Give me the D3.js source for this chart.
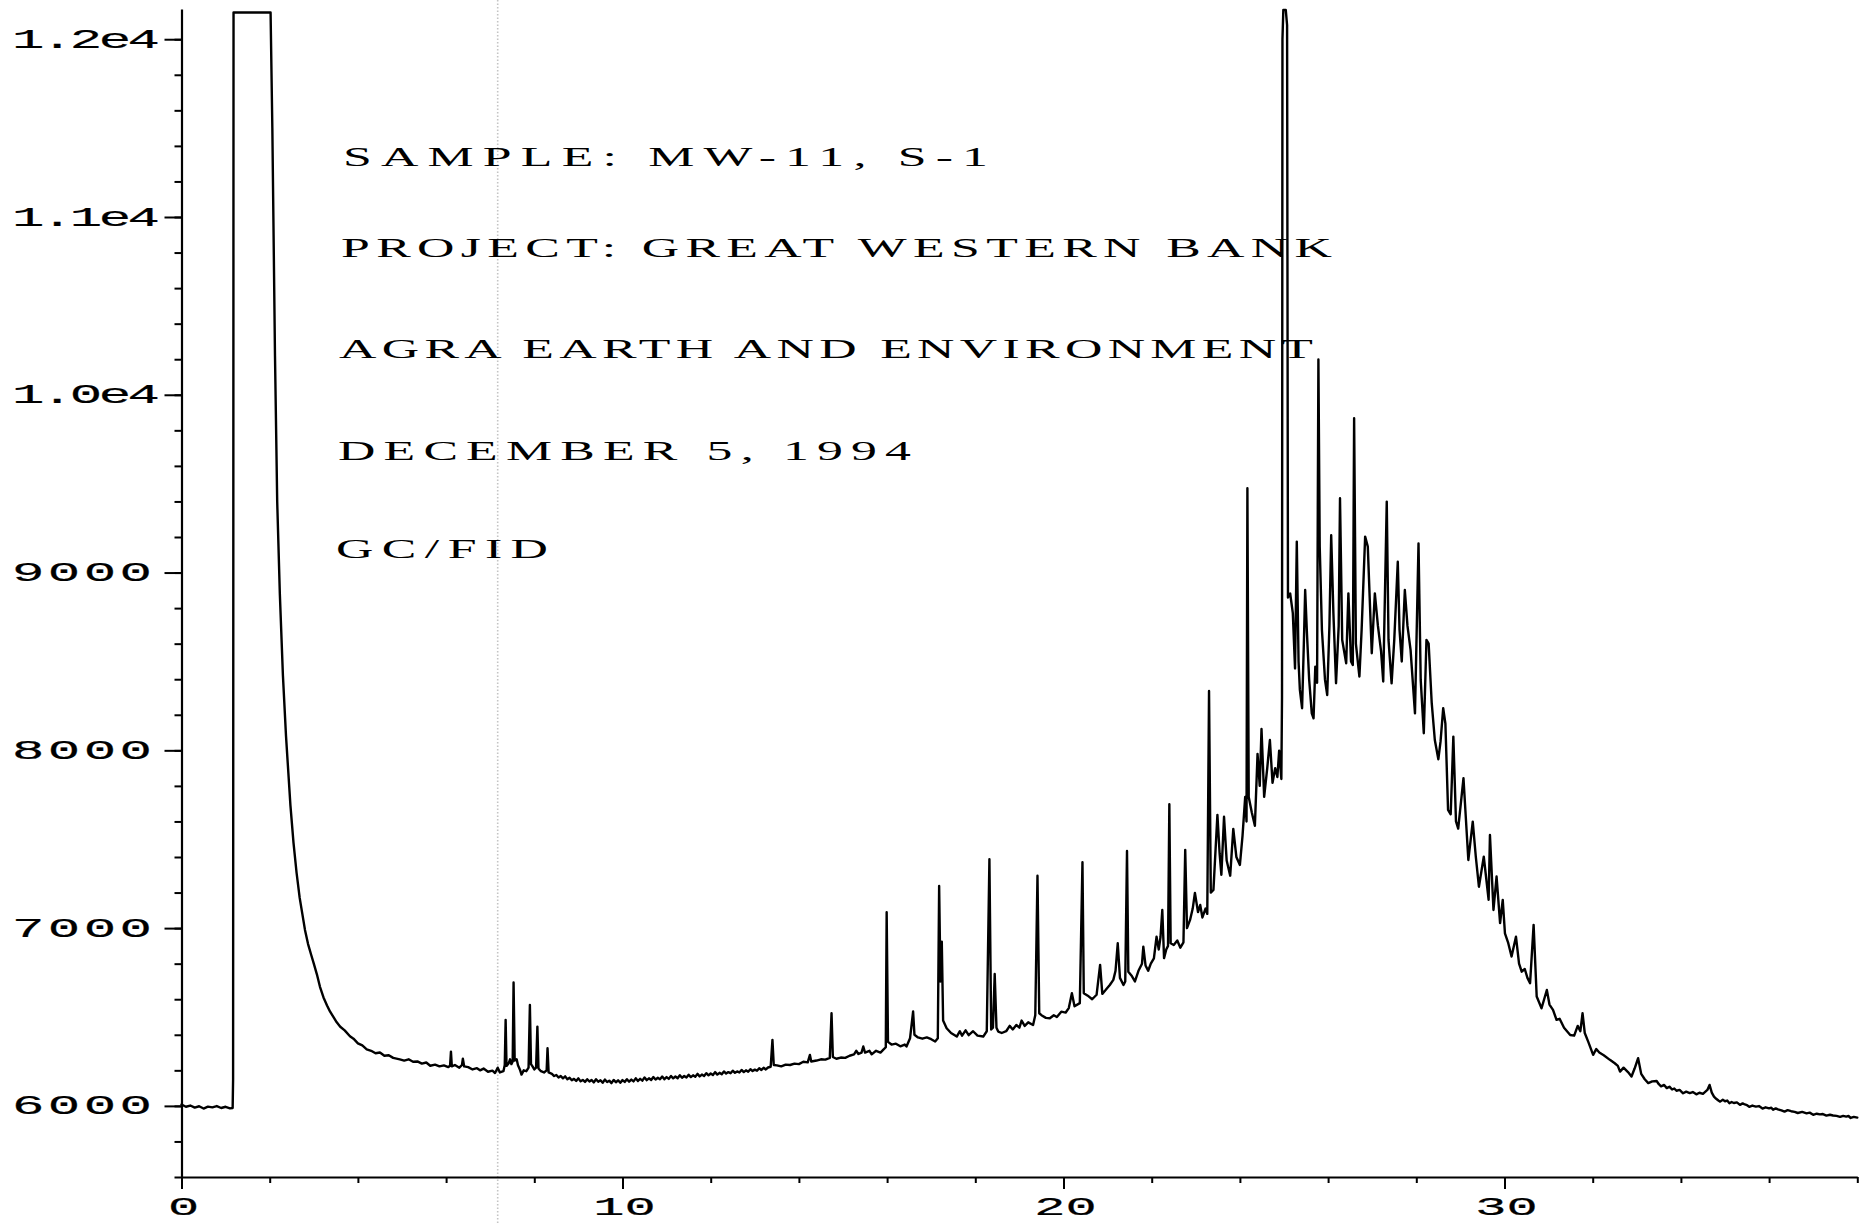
<!DOCTYPE html>
<html>
<head>
<meta charset="utf-8">
<script src="https://cdn.jsdelivr.net/npm/d3@7"></script>
<style>
  html, body { margin: 0; padding: 0; background: #ffffff; }
  svg { display: block; }
</style>
</head>
<body>
<svg id="chart" width="1860" height="1225"></svg>
<script>
// ---------------- DATA ----------------
// [retention time (min), detector signal]
const chromatogram = [
  [0.00,6008],[0.10,5995],[0.20,6002],[0.30,5990],[0.40,5998],[0.50,5985],[0.60,5996],[0.70,5992],
  [0.80,5999],[0.90,5988],[1.00,5995],[1.10,5986],[1.16,5988],[1.17,6150],[1.18,12150],
  [2.02,12150],[2.06,11500],[2.12,10220],[2.17,9400],[2.23,8880],[2.30,8420],[2.37,8080],[2.47,7690],
  [2.54,7480],[2.61,7310],[2.68,7170],[2.74,7080],[2.80,6990],[2.87,6910],[2.94,6850],[3.00,6800],
  [3.07,6740],[3.14,6670],[3.22,6610],[3.30,6565],[3.37,6530],[3.44,6502],[3.52,6470],
  [3.60,6445],[3.70,6425],[3.82,6392],[3.90,6378],[4.00,6352],[4.10,6340],[4.20,6318],[4.30,6310],
  [4.40,6296],[4.50,6300],[4.60,6282],[4.70,6285],[4.80,6270],[4.95,6262],[5.05,6255],[5.15,6262],
  [5.25,6248],[5.35,6250],[5.45,6238],[5.55,6244],[5.64,6226],[5.75,6232],[5.85,6222],[5.95,6228],
  [6.05,6218],[6.09,6226],[6.11,6305],[6.13,6222],[6.20,6230],[6.30,6215],[6.36,6230],[6.38,6265],
  [6.41,6222],[6.50,6218],[6.60,6205],[6.70,6212],[6.77,6200],[6.85,6210],[6.95,6192],[7.05,6198],
  [7.11,6185],[7.17,6215],[7.22,6188],[7.30,6195],[7.33,6230],[7.35,6484],[7.37,6225],[7.42,6240],
  [7.45,6262],[7.48,6235],[7.51,6250],[7.53,6694],[7.555,6255],[7.60,6262],[7.63,6228],[7.68,6200],
  [7.71,6176],[7.76,6200],[7.82,6195],[7.87,6215],[7.90,6568],[7.925,6235],[7.96,6222],[8.00,6205],
  [8.04,6215],[8.07,6446],[8.095,6210],[8.15,6195],[8.22,6188],[8.28,6200],[8.30,6324],[8.325,6188],
  [8.40,6180],[8.45,6168],[8.50,6174],[8.55,6160],[8.60,6168],[8.65,6155],[8.70,6166],[8.75,6150],
  [8.80,6158],[8.85,6144],[8.90,6152],[8.95,6140],[9.00,6155],[9.05,6138],[9.10,6146],[9.15,6135],
  [9.20,6150],[9.25,6137],[9.30,6146],[9.35,6132],[9.40,6150],[9.45,6136],[9.50,6144],[9.55,6130],
  [9.60,6148],[9.65,6134],[9.70,6142],[9.75,6128],[9.80,6146],[9.85,6133],[9.90,6144],[9.95,6130],
  [10.00,6145],[10.05,6135],[10.10,6150],[10.15,6136],[10.20,6148],[10.25,6138],[10.30,6155],[10.35,6140],
  [10.40,6152],[10.45,6142],[10.50,6160],[10.55,6145],[10.60,6155],[10.65,6146],[10.70,6162],[10.75,6148],
  [10.80,6158],[10.85,6150],[10.90,6165],[10.95,6150],[11.00,6162],[11.05,6152],[11.10,6168],[11.15,6155],
  [11.20,6165],[11.25,6156],[11.30,6172],[11.35,6158],[11.40,6168],[11.45,6160],[11.50,6175],[11.55,6162],
  [11.60,6172],[11.65,6164],[11.70,6180],[11.75,6166],[11.80,6176],[11.85,6168],[11.90,6184],[11.95,6172],
  [12.00,6182],[12.05,6174],[12.10,6190],[12.15,6176],[12.20,6186],[12.25,6178],[12.30,6194],[12.35,6182],
  [12.40,6190],[12.45,6184],[12.50,6198],[12.55,6186],[12.60,6194],[12.65,6188],[12.70,6202],[12.75,6190],
  [12.80,6200],[12.85,6192],[12.90,6206],[12.95,6196],[13.00,6204],[13.05,6198],[13.10,6212],[13.15,6202],
  [13.20,6214],[13.25,6205],[13.30,6216],
  [13.36,6220],[13.40,6371],[13.43,6230],[13.5,6228],[13.6,6222],[13.7,6232],
  [13.8,6230],[13.9,6238],[14.0,6235],[14.1,6248],[14.2,6245],[14.25,6287],[14.28,6250],[14.4,6255],
  [14.5,6262],[14.6,6260],[14.7,6270],[14.74,6521],[14.77,6275],[14.85,6265],[14.95,6272],[15.05,6270],
  [15.15,6282],[15.25,6290],[15.30,6310],[15.35,6292],[15.42,6300],[15.46,6334],[15.50,6300],[15.60,6310],
  [15.65,6290],[15.75,6310],[15.85,6300],[15.91,6315],[15.97,6330],[15.99,7089],[16.02,6360],[16.10,6345],
  [16.20,6350],[16.30,6335],[16.40,6345],[16.44,6334],[16.52,6380],[16.59,6531],[16.62,6400],[16.70,6385],
  [16.80,6378],[16.90,6385],[17.00,6375],[17.09,6362],[17.15,6380],[17.18,7237],[17.21,6700],[17.24,6924],
  [17.27,6480],[17.35,6437],[17.45,6410],[17.58,6390],[17.65,6420],[17.70,6395],[17.78,6425],[17.85,6398],
  [17.95,6420],[18.05,6395],[18.18,6390],[18.26,6420],[18.32,7387],[18.36,6430],[18.40,6440],[18.44,6742],
  [18.48,6440],[18.52,6418],[18.60,6410],[18.70,6420],[18.78,6450],[18.85,6430],[18.93,6455],[19.00,6440],
  [19.05,6480],[19.12,6450],[19.20,6470],[19.31,6455],[19.36,6510],[19.41,7295],[19.45,6521],[19.50,6510],
  [19.60,6495],[19.69,6493],[19.78,6510],[19.85,6500],[19.95,6530],[20.05,6525],[20.12,6550],[20.19,6634],
  [20.25,6560],[20.37,6578],[20.43,7371],[20.46,6634],[20.55,6620],[20.65,6600],[20.75,6625],[20.83,6793],
  [20.88,6630],[20.95,6650],[21.05,6680],[21.13,6709],[21.18,6760],[21.23,6915],[21.28,6720],[21.36,6680],
  [21.40,6700],[21.44,7434],[21.47,6755],[21.55,6730],[21.62,6700],[21.70,6760],[21.78,6800],[21.81,6896],
  [21.86,6790],[21.92,6760],[21.98,6800],[22.05,6830],[22.11,6952],[22.16,6880],[22.20,6950],[22.24,7102],
  [22.28,6831],[22.33,6880],[22.37,6900],[22.40,7697],[22.43,6915],[22.50,6905],[22.58,6930],[22.65,6890],
  [22.72,6920],[22.76,7440],[22.80,7000],[22.87,7046],[22.93,7110],[22.98,7198],[23.05,7090],[23.10,7130],
  [23.15,7060],[23.22,7110],[23.26,7080],[23.30,8334],[23.34,7200],[23.40,7215],[23.45,7450],[23.49,7637],
  [23.54,7420],[23.58,7300],[23.64,7626],[23.70,7380],[23.78,7295],[23.85,7558],[23.92,7400],[24.00,7355],
  [24.06,7520],[24.12,7738],[24.15,7600],[24.17,9474],[24.20,7738],[24.27,7650],[24.34,7576],[24.40,7980],
  [24.45,7800],[24.49,8120],[24.55,7738],[24.62,7900],[24.68,8058],[24.74,7817],[24.80,7900],[24.85,7850],
  [24.89,7998],[24.94,7839],[24.955,8300],[24.965,12000],[24.985,12165],[25.04,12165],[25.07,12080],
  [25.09,8860],[25.14,8882],[25.20,8772],[25.25,8460],[25.29,9174],[25.33,8500],[25.36,8340],[25.41,8237],
  [25.45,8600],[25.48,8902],[25.52,8660],[25.57,8400],[25.63,8208],[25.67,8180],[25.71,8471],[25.75,8380],
  [25.78,10199],[25.81,9146],[25.86,8677],[25.93,8396],[25.98,8311],[26.03,8700],[26.07,9210],[26.12,8772],
  [26.18,8377],[26.24,8700],[26.27,9418],[26.32,8621],[26.41,8490],[26.46,8883],[26.52,8500],[26.56,8480],
  [26.59,9868],[26.63,8600],[26.71,8415],[26.76,8677],[26.84,9202],[26.90,9146],[26.99,8546],[27.06,8883],
  [27.13,8700],[27.20,8560],[27.25,8387],[27.33,9399],[27.37,8621],[27.44,8377],[27.50,8620],[27.58,9061],
  [27.62,8677],[27.67,8500],[27.74,8902],[27.80,8700],[27.87,8565],[27.97,8208],[28.05,9164],[28.10,8396],
  [28.17,8096],[28.23,8621],[28.28,8600],[28.35,8265],[28.42,8058],[28.50,7950],[28.55,8050],[28.61,8237],
  [28.66,8150],[28.72,7665],[28.78,7640],[28.84,8077],[28.90,7600],[28.95,7560],[29.07,7843],[29.18,7383],
  [29.28,7599],[29.35,7400],[29.42,7233],[29.53,7402],[29.64,7159],[29.67,7524],[29.75,7102],[29.82,7290],
  [29.90,7028],[29.96,7159],[30.01,6971],[30.08,6920],[30.16,6840],[30.26,6952],[30.33,6800],[30.39,6755],
  [30.46,6770],[30.52,6720],[30.58,6690],[30.66,7018],[30.73,6615],[30.84,6549],[30.96,6652],[31.02,6570],
  [31.10,6540],[31.18,6484],[31.25,6490],[31.35,6440],[31.49,6399],[31.58,6395],[31.66,6450],[31.72,6420],
  [31.77,6521],[31.82,6410],[31.90,6360],[32.01,6287],[32.08,6320],[32.15,6300],[32.25,6285],[32.39,6259],
  [32.50,6240],[32.57,6225],[32.62,6193],[32.70,6215],[32.80,6190],[32.88,6165],[32.95,6210],[33.03,6268],
  [33.10,6180],[33.18,6150],[33.26,6128],[33.35,6138],[33.45,6140],[33.50,6122],[33.55,6110],[33.62,6118],
  [33.68,6100],[33.74,6108],[33.80,6092],[33.85,6098],[33.90,6085],[33.97,6090],[34.05,6071],[34.12,6080],
  [34.20,6072],[34.27,6078],[34.35,6065],[34.42,6074],[34.50,6068],[34.60,6090],[34.65,6118],[34.70,6075],
  [34.75,6052],[34.80,6040],[34.85,6030],[34.89,6024],[34.95,6034],[35.00,6026],[35.05,6030],[35.10,6015],
  [35.15,6022],[35.20,6016],[35.27,6020],[35.34,6006],[35.40,6014],[35.45,6008],[35.50,6004],[35.55,5995],
  [35.62,6002],[35.70,5996],[35.77,5999],[35.85,5985],[35.92,5992],[36.00,5986],[36.05,5990],[36.09,5978],
  [36.15,5986],[36.20,5980],[36.28,5975],[36.35,5968],[36.42,5976],[36.50,5970],[36.58,5966],[36.65,5960],
  [36.75,5966],[36.85,5958],[36.92,5962],[37.00,5950],[37.08,5956],[37.15,5952],[37.22,5954],[37.30,5945],
  [37.38,5950],[37.45,5946],[37.53,5944],[37.61,5938],[37.68,5944],[37.75,5940],[37.80,5943],[37.85,5932],
  [37.92,5938],[38.00,5934]
];

const yMajorValues = [6000, 7000, 8000, 9000, 10000, 11000, 12000];
const yTickLabels  = ["6000", "7000", "8000", "9000", "1.0e4", "1.1e4", "1.2e4"];
const yMinorValues = d3.range(5600, 12001, 200);
const xMajorValues = [0, 10, 20, 30];
const xTickLabels  = ["0", "10", "20", "30"];
const xMinorValues = d3.range(0, 38.01, 2);
const headerLines  = [
  "SAMPLE: MW-11, S-1",
  "PROJECT: GREAT WESTERN BANK",
  "AGRA EARTH AND ENVIRONMENT",
  "DECEMBER 5, 1994",
  "GC/FID"
];
const scanFoldTime = 7.17;   // faint dotted fold line of the scanned sheet

// ---------------- LAYOUT ----------------
const svg = d3.select("#chart");
const x = d3.scaleLinear().domain([0, 38]).range([181.5, 1857.3]);
const y = d3.scaleLinear().domain([5600, 12170]).range([1177, 9]);
const xAxisY = y(5600);
const yAxisX = x(0);

// scan fold line
svg.append("line")
  .attr("x1", x(scanFoldTime)).attr("x2", x(scanFoldTime))
  .attr("y1", 0).attr("y2", 1225)
  .attr("stroke", "#c4c4c4").attr("stroke-width", 1.6)
  .attr("stroke-dasharray", "1.5,2");

// ---------------- AXES ----------------
function styleAxis(g) {
  g.selectAll("path.domain").attr("stroke", "#000").attr("stroke-width", 2.2);
  g.selectAll(".tick line").attr("stroke", "#000").attr("stroke-width", 2);
  g.selectAll(".tick text").remove();
}

svg.append("g")
  .attr("transform", `translate(${yAxisX},0)`)
  .call(d3.axisLeft(y).tickValues(yMinorValues).tickSize(7).tickSizeOuter(0).tickFormat(""))
  .call(styleAxis);
svg.append("g")
  .attr("transform", `translate(${yAxisX},0)`)
  .call(d3.axisLeft(y).tickValues(yMajorValues).tickSize(17).tickSizeOuter(0).tickFormat(""))
  .call(g => g.select("path.domain").remove())
  .call(styleAxis);

svg.append("g")
  .attr("transform", `translate(0,${xAxisY})`)
  .call(d3.axisBottom(x).tickValues(xMinorValues).tickSize(6).tickSizeOuter(0).tickFormat(""))
  .call(styleAxis);
svg.append("g")
  .attr("transform", `translate(0,${xAxisY})`)
  .call(d3.axisBottom(x).tickValues(xMajorValues).tickSize(12).tickSizeOuter(0).tickFormat(""))
  .call(g => g.select("path.domain").remove())
  .call(styleAxis);

// ---------------- TICK LABELS (wide plotter lettering) ----------------
const LABEL_FONT = "'Liberation Mono', 'DejaVu Sans Mono', monospace";
const LABEL_SX = 2.0;

yMajorValues.forEach((v, i) => {
  const label = yTickLabels[i];
  const w = label.length === 5 ? 148 : 140;
  svg.append("g")
    .attr("transform", `translate(12,${y(v) + 8.5}) scale(${LABEL_SX},1)`)
    .append("text")
      .attr("x", 0).attr("y", 0)
      .attr("font-family", LABEL_FONT)
      .attr("font-size", 27)
      .attr("fill", "#000")
      .attr("stroke", "#000").attr("stroke-width", 0.2)
      .attr("textLength", w / LABEL_SX)
      .attr("lengthAdjust", "spacing")
      .text(label);
});

xMajorValues.forEach((v, i) => {
  svg.append("g")
    .attr("transform", `translate(${x(v) + 2},${xAxisY + 38}) scale(${LABEL_SX},1)`)
    .append("text")
      .attr("x", 0).attr("y", 0)
      .attr("text-anchor", "middle")
      .attr("font-family", LABEL_FONT)
      .attr("font-size", 26)
      .attr("fill", "#000")
      .attr("stroke", "#000").attr("stroke-width", 0.2)
      .text(xTickLabels[i]);
});

// ---------------- HEADER TEXT ----------------
const headerLeft = [343, 341, 339, 338, 336];
const headerBase = [166, 257, 358, 460, 558];
const headerWidth = [645, 991, 974, 573, 212];
const HEAD_SX = 1.85;
headerLines.forEach((line, i) => {
  svg.append("g")
    .attr("transform", `translate(${headerLeft[i]},${headerBase[i]}) scale(${HEAD_SX},1)`)
    .append("text")
      .attr("x", 0).attr("y", 0)
      .attr("font-family", "'Liberation Serif', 'DejaVu Serif', serif")
      .attr("font-size", 28)
      .attr("fill", "#000")
      .attr("textLength", headerWidth[i] / HEAD_SX)
      .attr("lengthAdjust", "spacing")
      .text(line);
});

// ---------------- TRACE ----------------
const line = d3.line()
  .x(d => x(d[0]))
  .y(d => y(d[1]));

svg.append("path")
  .datum(chromatogram)
  .attr("d", line)
  .attr("fill", "none")
  .attr("stroke", "#000")
  .attr("stroke-width", 2.4)
  .attr("stroke-linejoin", "round")
  .attr("stroke-linecap", "round");
</script>
</body>
</html>
